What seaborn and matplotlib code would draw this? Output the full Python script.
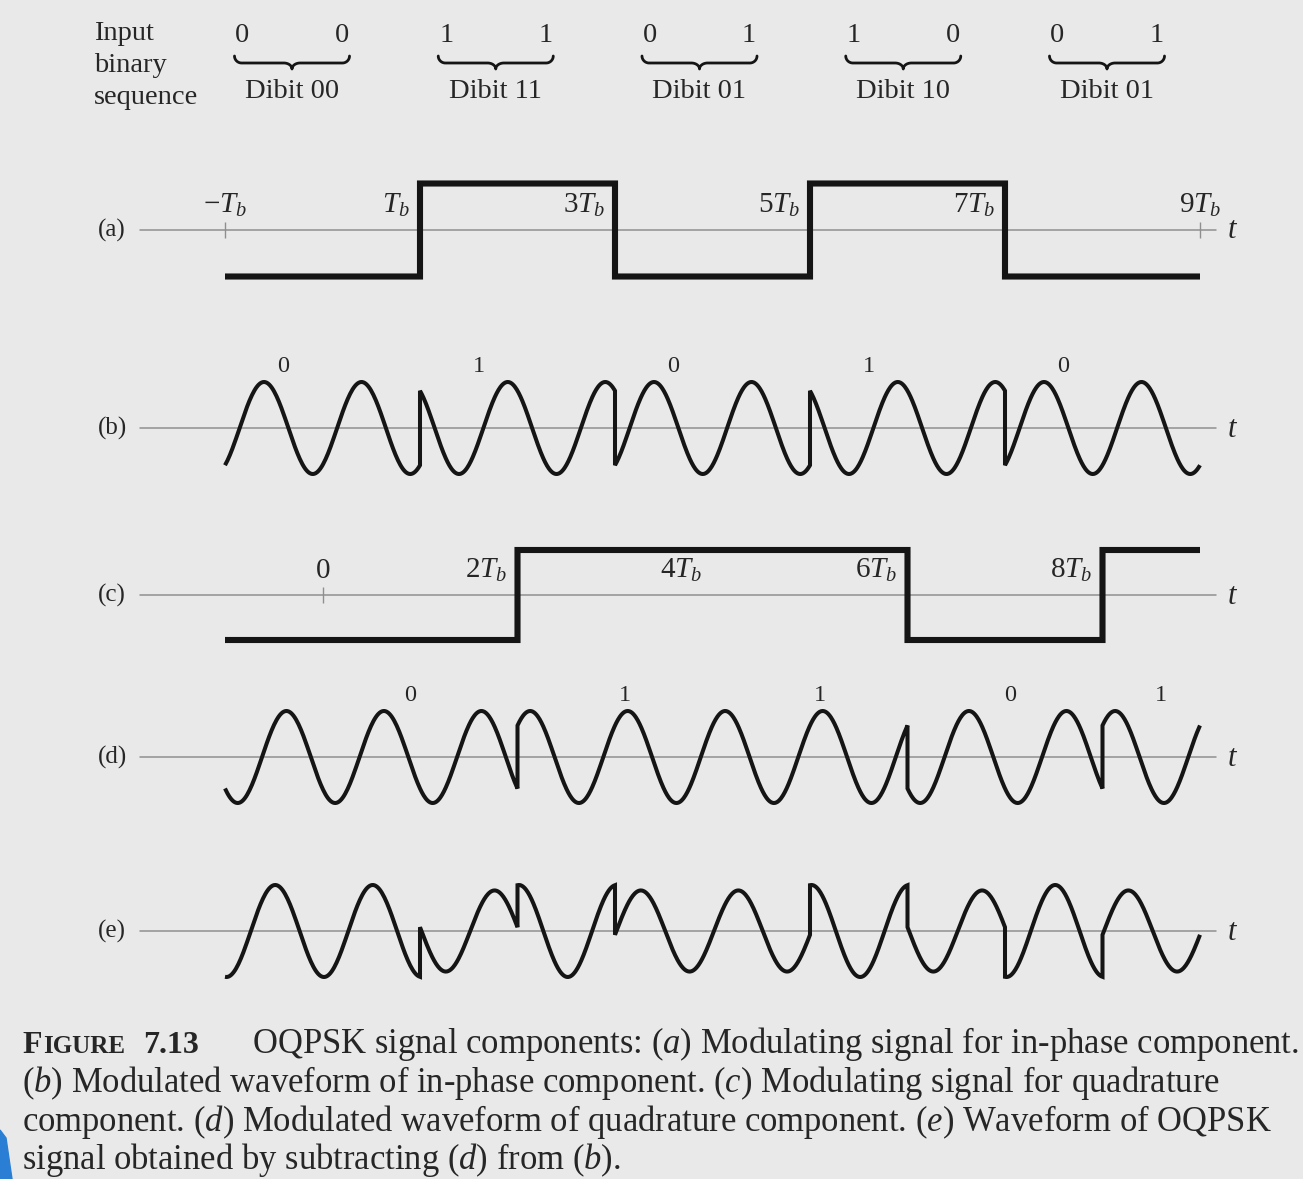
import numpy as np
import pandas as pd
import matplotlib
matplotlib.use("Agg")
import matplotlib.pyplot as plt
import seaborn as sns
from matplotlib.patches import Polygon

# ---- data ----
dibits = ["00", "11", "01", "10", "01"]
i_bits = [0, 1, 0, 1, 0]            # first bit of every dibit
q_bits = [0, 1, 1, 0, 1]            # second bit of every dibit
i_edges = [-1, 1, 3, 5, 7, 9]       # bit boundaries in units of Tb
q_edges = [-1, 2, 4, 6, 8, 9]
i_ticks = [-1, 1, 3, 5, 7, 9]
i_tick_labels = [r"$-T_b$", r"$T_b$", r"$3T_b$", r"$5T_b$", r"$7T_b$", r"$9T_b$"]
q_ticks = [0, 2, 4, 6, 8]
q_tick_labels = [r"$0$", r"$2T_b$", r"$4T_b$", r"$6T_b$", r"$8T_b$"]
cycles_per_tb = 1.0
i_peak = 0.40    # carrier peak offset of in-phase wave (Tb)
q_peak = 0.63    # carrier peak offset of quadrature wave (Tb)

caption = [
    "OQPSK signal components: ($a$) Modulating signal for in-phase component.",
    "($b$) Modulated waveform of in-phase component. ($c$) Modulating signal for quadrature",
    "component. ($d$) Modulated waveform of quadrature component. ($e$) Waveform of OQPSK",
    "signal obtained by subtracting ($d$) from ($b$).",
]

# ---- style ----
sns.set_theme(style="white")
BG = "#e9e9ea"
INK = "#151515"
TXT = "#262626"
AXC = "#8f8f8f"
plt.rcParams["font.family"] = ["Liberation Serif", "DejaVu Serif"]
plt.rcParams["mathtext.fontset"] = "custom"
plt.rcParams["mathtext.rm"] = "Liberation Serif"
plt.rcParams["mathtext.it"] = "Liberation Serif:italic"
plt.rcParams["mathtext.bf"] = "Liberation Serif:bold"

W, H = 1303, 1179
fig = plt.figure(figsize=(W / 100, H / 100), dpi=100, facecolor=BG)

TB_PX, T1_PX = 97.5, 420


def t_of(px):
    return 1 + (px - T1_PX) / TB_PX


def level(edges, bits, t):
    k = int(np.searchsorted(edges, t, side="right")) - 1
    k = min(max(k, 0), len(bits) - 1)
    return 1 if bits[k] else -1


all_edges = sorted(set(i_edges) | set(q_edges))


def build(fn):
    parts = []
    for t0, t1 in zip(all_edges[:-1], all_edges[1:]):
        tm = 0.5 * (t0 + t1)
        li, lq = level(i_edges, i_bits, tm), level(q_edges, q_bits, tm)
        tt = np.linspace(t0, t1, 160)
        parts.append(pd.DataFrame({"t": tt, "v": fn(tt, li, lq)}))
    return pd.concat(parts, ignore_index=True)


def carrier(tt, peak):
    return np.cos(2 * np.pi * cycles_per_tb * (tt - peak))


norm = 2 * np.cos(np.pi * (q_peak - i_peak))
sig_a = build(lambda tt, li, lq: li * np.ones_like(tt))
sig_b = build(lambda tt, li, lq: -li * carrier(tt, i_peak))
sig_c = build(lambda tt, li, lq: lq * np.ones_like(tt))
sig_d = build(lambda tt, li, lq: -lq * carrier(tt, q_peak))
sig_e = build(lambda tt, li, lq: (-li * carrier(tt, i_peak) - lq * carrier(tt, q_peak)) / norm)

# row: (key, signal, axis y px, amplitude px, line width)
rows = [
    ("a", sig_a, 230, 46.5, 4.4),
    ("b", sig_b, 428, 46, 2.9),
    ("c", sig_c, 595, 45, 4.4),
    ("d", sig_d, 757, 46, 2.9),
    ("e", sig_e, 931, 46, 2.9),
]
HALF = 80
axes = {}
for key, df, cy, amp, lw in rows:
    ax = fig.add_axes([0, 1 - (cy + HALF) / H, 1, 2 * HALF / H])
    ax.set_xlim(t_of(0), t_of(W))
    ax.set_ylim(-HALF / amp, HALF / amp)
    ax.axis("off")
    ax.axhline(0, xmin=140 / W, xmax=1216 / W, color=AXC, lw=1.1, zorder=1)
    sns.lineplot(data=df, x="t", y="v", ax=ax, sort=False, estimator=None,
                 color=INK, linewidth=lw, solid_joinstyle="miter",
                 solid_capstyle="butt", zorder=3, legend=False)
    ax.text(t_of(112), 0, f"({key})", ha="center", va="center", fontsize=18, color=TXT)
    ax.text(t_of(1233), -1 / amp, "$t$", ha="center", va="center", fontsize=22, color=TXT)
    axes[key] = (ax, amp)

# tick marks and labels on (a) and (c)
for key, ticks, labels, edges in [("a", i_ticks, i_tick_labels, i_edges),
                                  ("c", q_ticks, q_tick_labels, q_edges)]:
    ax, amp = axes[key]
    step_edges = edges[1:-1]
    for tk, lab in zip(ticks, labels):
        if tk in step_edges:
            ax.text(tk - 0.1, 17 / amp, lab, ha="right", va="baseline",
                    fontsize=21, color=TXT)
        else:
            ax.vlines(tk, -8 / amp, 8 / amp, color=AXC, lw=1.0)
            ax.text(tk, 17 / amp, lab, ha="center", va="baseline",
                    fontsize=21, color=TXT)

# bit labels above (b) and (d)
ax_b, amp_b = axes["b"]
for k, b in enumerate(i_bits):
    ax_b.text(i_edges[k] + 0.6, 56 / amp_b, str(b), ha="center", va="baseline",
              fontsize=17.5, color=TXT)
ax_d, amp_d = axes["d"]
q_label_t = [0.9, 3.1, 5.1, 7.05, 8.6]
for tq, b in zip(q_label_t, q_bits):
    ax_d.text(tq, 56 / amp_d, str(b), ha="center", va="baseline",
              fontsize=17.5, color=TXT)

# header: input binary sequence with braces
hax = fig.add_axes([0, 1 - 125 / H, 1, 125 / H])
DIB_PX, DIB_C0 = 203.75, 292
hax.set_xlim(-DIB_C0 / DIB_PX, (W - DIB_C0) / DIB_PX)
hax.set_ylim(125, 0)
hax.axis("off")
for y, word in zip([40, 72, 104], ["Input", "binary", "sequence"]):
    hax.text((94 - DIB_C0) / DIB_PX, y, word, ha="left", va="baseline",
             fontsize=20.5, color=TXT)

w = 57.5 / DIB_PX
rx, rm = 0.035, 0.04
s = np.linspace(0, np.pi / 2, 20)
left_x = np.concatenate([-w + rx - rx * np.cos(s), -rm + rm * np.sin(s)])
left_y = np.concatenate([56 + 7 * np.sin(s), 69 - 6 * np.cos(s)])
brace_x = np.concatenate([left_x, -left_x[::-1]])
brace_y = np.concatenate([left_y, left_y[::-1]])
for i, d in enumerate(dibits):
    hax.plot(i + brace_x, brace_y, color=INK, lw=2.0, solid_capstyle="round")
    hax.text(i - 0.243, 42, d[0], ha="center", va="baseline", fontsize=20.5, color=TXT)
    hax.text(i + 0.243, 42, d[1], ha="center", va="baseline", fontsize=20.5, color=TXT)
    hax.text(i, 98, f"Dibit {d}", ha="center", va="baseline", fontsize=20.5, color=TXT)

# caption
fig.text(22 / W, 1 - 1053 / H, "F", fontsize=23, fontweight="bold", color=TXT)
fig.text(43 / W, 1 - 1053 / H, "IGURE", fontsize=18, fontweight="bold", color=TXT)
fig.text(143 / W, 1 - 1053 / H, "7.13", fontsize=23, fontweight="bold", color=TXT)
starts = [252, 22, 22, 22]
targets = [1048, 1206, 1255, 598]
baselines = [1053, 1092, 1131, 1169]
cap_texts = []
for line, x0, yb in zip(caption, starts, baselines):
    cap_texts.append(fig.text(x0 / W, 1 - yb / H, line, fontsize=23,
                              va="baseline", ha="left", color=TXT))
fig.canvas.draw()
r = fig.canvas.get_renderer()
sizes = [t.get_fontsize() * tg / t.get_window_extent(r).width for t, tg in zip(cap_texts, targets)]
for t in cap_texts:
    t.set_fontsize(np.median(sizes))

# blue corner artefact of the scan
fig.patches.append(Polygon([[0, 1 - 1130 / H], [6 / W, 1 - 1138 / H],
                            [12 / W, 0], [0, 0]], closed=True,
                           transform=fig.transFigure, color="#2a7fd4"))

fig.savefig("out.png", dpi=100, facecolor=BG)
